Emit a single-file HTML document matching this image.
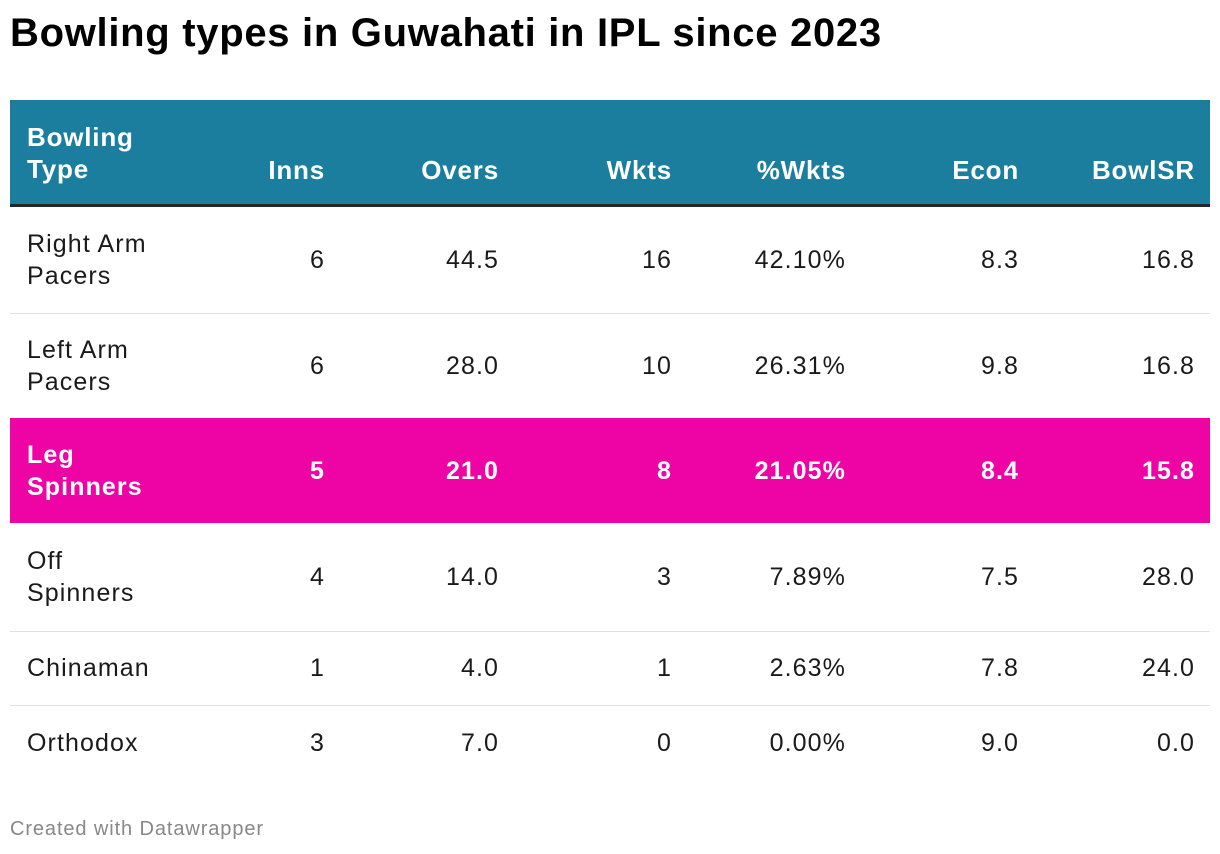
<!DOCTYPE html>
<html><head><meta charset="utf-8"><style>
body{margin:0;width:1220px;height:854px;background:#fff;font-family:"Liberation Sans",sans-serif;color:#1a1a1a;position:relative;overflow:hidden}
.t{position:absolute;left:10px;top:11px;font-size:40px;font-weight:bold;color:#000;letter-spacing:0.7px}
.tb{position:absolute;left:10px;top:100px;width:1200px}
.hd{position:absolute;left:0;top:0;width:1200px;height:104px;background:#1b7e9e;border-bottom:3px solid #262626;color:#fff;font-weight:bold}
.row{position:absolute;left:0;width:1200px;border-bottom:1px solid #e0e0e0}
.c{position:absolute;font-size:25px;line-height:32px;text-align:right;transform:translateY(-50%);letter-spacing:1.1px;margin-right:-1px}
.n{left:17px;text-align:left}
.hl{background:#ee03a5;color:#fff;font-weight:bold;border-bottom:none}
.ft{position:absolute;left:10px;top:818px;font-size:20px;color:#888;letter-spacing:0.9px}
</style></head><body>
<div class="t">Bowling types in Guwahati in IPL since 2023</div>
<div class="tb" id="tb"></div>
<div class="ft">Created with Datawrapper</div>
<script>
const headers=["Bowling<br>Type","Inns","Overs","Wkts","%Wkts","Econ","BowlSR"];
const names=["Right Arm<br>Pacers","Left Arm<br>Pacers","Leg<br>Spinners","Off<br>Spinners","Chinaman","Orthodox"];
const inns=["6","6","5","4","1","3"];
const overs=["44.5","28.0","21.0","14.0","4.0","7.0"];
const wkts=["16","10","8","3","1","0"];
const pct=["42.10%","26.31%","21.05%","7.89%","2.63%","0.00%"];
const econ=["8.3","9.8","8.4","7.5","7.8","9.0"];
const sr=["16.8","16.8","15.8","28.0","24.0","0.0"];
const rights=[314,488,661,835,1008,1184];
const tops=[107,213,318,423,531,605];
const heights=[106,105,105,108,74,75];
const tb=document.getElementById('tb');
const hd=document.createElement('div');hd.className='hd';


headers.forEach((h,i)=>{const d=document.createElement('div');d.className='c'+(i==0?' n':'');d.innerHTML=h;d.style.top=(i==0?53:70)+'px';d.style.fontSize='26px';d.style.letterSpacing='0.8px';
if(i>0){d.style.right=(1200-rights[i-1])+'px';}


hd.appendChild(d);});
tb.appendChild(hd);
names.forEach((nm,r)=>{const row=document.createElement('div');row.className='row'+(r==2?' hl':'');


row.style.top=tops[r]+'px';row.style.height=heights[r]+'px';
if(r==5)row.style.borderBottom='none';
const vals=[nm,inns[r],overs[r],wkts[r],pct[r],econ[r],sr[r]];
vals.forEach((v,i)=>{const d=document.createElement('div');d.className='c'+(i==0?' n':'');d.innerHTML=v;d.style.top=(heights[r]/2)+'px';
if(i>0)d.style.right=(1200-rights[i-1])+'px';


row.appendChild(d);});
tb.appendChild(row);});
</script>
</body></html>
